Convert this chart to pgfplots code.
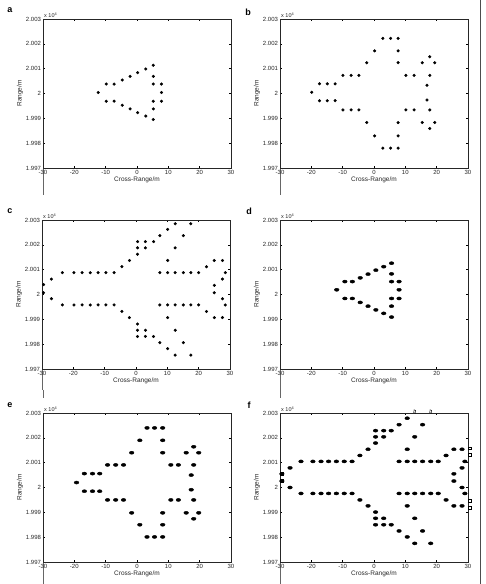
\documentclass[border=0pt]{standalone}
\usepackage{pgfplots}
\pgfplotsset{compat=1.18}
\usepackage{fontspec}
\setmainfont{Liberation Sans}
\begin{document}
\begin{tikzpicture}[x=1pt,y=1pt]
\pgfplotsset{
  panel/.style={
    width=188pt,height=149pt,scale only axis,anchor=south west,
    xmin=-30,xmax=30,ymin=19970,ymax=20030,
    xtick={-30,-20,-10,0,10,20,30},
    xticklabels={-30,-20,-10,0,10,20,30},
    ytick={19970,19980,19990,20000,20010,20020,20030},
    yticklabels={1.997,1.998,1.999,2,2.001,2.002,2.003},
    scaled y ticks=false,
    tick align=inside, major tick length=2.2pt,
    tick style={black,line width=0.4pt},
    axis line style={line width=0.5pt, black!85},
    tick label style={font=\fontsize{6}{7}\selectfont, text=black!85},
    xticklabel style={yshift=1.5pt}, yticklabel style={xshift=1.5pt},
    label style={font=\fontsize{6.5}{7.5}\selectfont, text=black!85},
    xlabel={Cross-Range/m}, ylabel={Range/m},
    xlabel style={yshift=4pt}, ylabel style={yshift=-4pt},
    clip=false,
  },
  smallmk/.style={only marks, mark=*, mark size=1.35pt, black},
  bigmk/.style={only marks, mark=*, mark size=1.55pt, mark options={xscale=1.5}, black},
}
\path[use as bounding box] (0,0) rectangle (486,584);
% decorative scan lines
\draw[black!70,line width=0.5pt] (480,0) -- (480,584);
\draw[black!60,line width=0.4pt] (43,416) -- (43,389) (42,215) -- (42,194) (43,194) -- (43,186) (43,22) -- (43,0);
\draw[black!60,line width=0.4pt] (280,416) -- (280,389) (280,215) -- (280,194) (280,194) -- (280,186) (280,22) -- (280,0);
% panel letters
\node[font=\bfseries\fontsize{9}{10}\selectfont] at (10,574) {a};
\node[font=\bfseries\fontsize{9}{10}\selectfont] at (248,572) {b};
\node[font=\bfseries\fontsize{9}{10}\selectfont] at (10,373) {c};
\node[font=\bfseries\fontsize{9}{10}\selectfont] at (249,373) {d};
\node[font=\bfseries\fontsize{9}{10}\selectfont] at (10,179) {e};
\node[font=\bfseries\fontsize{9}{10}\selectfont] at (249,179) {f};

% ---------------- a
\begin{axis}[panel, at={(43pt,416pt)}]
\addplot[smallmk] coordinates {(-12.4,20000.4) (-9.8,20003.8) (-7.3,20003.8) (-4.7,20005.4) (-2.2,20006.9) (0.2,20008.4) (2.8,20009.9) (5.2,20011.4) (5.2,20006.9) (5.2,20003.8) (7.8,20003.8) (7.8,20000.4) (-9.8,19996.9) (-7.3,19996.9) (-4.7,19995.3) (-2.2,19993.8) (0.2,19992.3) (2.8,19990.9) (5.2,19989.5) (5.2,19993.8) (5.2,19996.9) (7.8,19996.9)};
\node[anchor=south west, inner sep=1pt, font=\fontsize{5.5}{6}\selectfont, text=black!85] at (rel axis cs:0,1) {x 10\textsuperscript{4}};
\end{axis}

% ---------------- b
\begin{axis}[panel, at={(280pt,416pt)}]
\addplot[smallmk] coordinates {(-19.9,20000.5)
(-17.4,20003.9) (-14.9,20003.9) (-12.4,20003.9)
(-17.4,19997.1) (-14.9,19997.1) (-12.4,19997.1)
(-9.9,20007.3) (-7.3,20007.3) (-4.8,20007.3)
(-9.9,19993.4) (-7.3,19993.4) (-4.8,19993.4)
(-2.3,20012.4) (-2.3,19988.3)
(0.2,20017.2) (0.2,19982.9)
(2.8,20022.2) (5.3,20022.2) (7.7,20022.2)
(2.8,19978.0) (5.3,19978.0) (7.7,19978.0)
(7.7,20017.2) (7.7,20012.4) (7.7,19988.3) (7.7,19982.9)
(10.2,20007.3) (12.8,20007.3) (10.2,19993.4) (12.8,19993.4)
(15.4,20012.4) (17.8,20014.8) (19.4,20012.4) (17.8,20007.3)
(16.9,20003.3) (16.9,19997.4)
(17.8,19993.4) (15.4,19988.3) (19.4,19988.3) (17.8,19985.9)};
\node[anchor=south west, inner sep=1pt, font=\fontsize{5.5}{6}\selectfont, text=black!85] at (rel axis cs:0,1) {x 10\textsuperscript{4}};
\end{axis}

% ---------------- c
\begin{axis}[panel, at={(42pt,215pt)}]
\addplot[smallmk] coordinates {(-29.5,20004.0) (-29.5,20000.7) (-27.0,20006.2) (-27.0,19998.3)
(-23.5,20008.8) (-19.8,20008.8) (-17.2,20008.8) (-14.6,20008.8) (-12.1,20008.8) (-9.6,20008.8) (-7.0,20008.8)
(-23.5,19995.8) (-19.8,19995.8) (-17.2,19995.8) (-14.6,19995.8) (-12.1,19995.8) (-9.6,19995.8) (-7.0,19995.8)
(-4.5,20011.2) (-4.5,19993.2)
(-2.1,20013.7) (-2.1,19990.7)
(0.5,20016.2) (0.5,20018.8) (0.5,20021.3) (3.0,20021.3) (5.6,20021.3) (3.0,20018.8)
(0.5,19988.1) (0.5,19985.6) (0.5,19983.1) (3.0,19985.6) (3.0,19983.1) (5.6,19983.1)
(7.6,20023.7) (7.6,19980.6)
(10.1,20026.2) (10.1,19978.2)
(12.5,20028.5) (12.5,19975.6)
(17.5,20028.5) (17.5,19975.6)
(15.1,20023.7) (15.1,19980.6)
(12.5,20018.8) (12.5,19985.6)
(10.1,20013.7) (10.1,19990.7)
(7.6,20008.8) (10.1,20008.8) (12.5,20008.8) (15.1,20008.8) (17.5,20008.8) (20.0,20008.8)
(7.6,19995.8) (10.1,19995.8) (12.5,19995.8) (15.1,19995.8) (17.5,19995.8) (20.0,19995.8)
(22.5,20011.2) (22.5,19993.2)
(25.0,20013.7) (27.6,20013.7) (25.0,19990.7) (27.6,19990.7)
(28.5,20008.8) (28.5,19995.8)
(27.6,20006.2) (27.6,19998.3)
(25.0,20003.7) (25.0,20000.7)};
\node[anchor=south west, inner sep=1pt, font=\fontsize{5.5}{6}\selectfont, text=black!85] at (rel axis cs:0,1) {x 10\textsuperscript{4}};
\end{axis}

% ---------------- d
\begin{axis}[panel, at={(280pt,215pt)}]
\addplot[bigmk] coordinates {(-11.9,20001.9) (-9.3,20005.2) (-6.9,20005.2) (-9.3,19998.4) (-6.9,19998.4)
(-4.4,20006.7) (-4.4,19996.8) (-1.9,20008.2) (-1.9,19995.3)
(0.6,20009.8) (0.6,19993.8) (3.1,20011.2) (3.1,19992.4)
(5.6,20012.6) (5.6,19990.9) (5.6,20008.3) (5.6,19995.3)
(5.6,20005.2) (8.0,20005.2) (5.6,19998.4) (8.0,19998.4) (8.0,20001.9)};
\node[anchor=south west, inner sep=1pt, font=\fontsize{5.5}{6}\selectfont, text=black!85] at (rel axis cs:0,1) {x 10\textsuperscript{4}};
\end{axis}

% ---------------- e
\begin{axis}[panel, at={(43pt,22pt)}]
\addplot[bigmk] coordinates {(-19.3,20002.0)
(-16.8,20005.6) (-14.2,20005.6) (-11.9,20005.6)
(-16.8,19998.5) (-14.2,19998.5) (-11.9,19998.5)
(-9.4,20009.1) (-6.8,20009.1) (-4.3,20009.1)
(-9.4,19995.0) (-6.8,19995.0) (-4.3,19995.0)
(-1.7,20014.0) (-1.7,19989.8)
(0.9,20019.0) (0.9,19985.0)
(3.2,20024.0) (5.6,20024.0) (8.2,20024.0)
(3.2,19980.1) (5.6,19980.1) (8.2,19980.1)
(8.2,20019.0) (8.2,20014.0) (8.2,19989.8) (8.2,19985.0)
(10.8,20009.1) (13.2,20009.1) (10.8,19995.0) (13.2,19995.0)
(15.7,20014.0) (18.1,20016.4) (19.7,20014.0) (18.1,20009.1)
(17.3,20005.0) (17.3,19999.1)
(18.1,19995.0) (15.7,19989.8) (19.7,19989.8) (18.1,19987.4)};
\node[anchor=south west, inner sep=1pt, font=\fontsize{5.5}{6}\selectfont, text=black!85] at (rel axis cs:0,1) {x 10\textsuperscript{4}};
\end{axis}

% ---------------- f
\begin{axis}[panel, at={(280pt,22pt)}]
\addplot[bigmk] coordinates {(-29.4,20005.5) (-29.4,20002.6) (-26.8,20007.9) (-26.8,20000.0)
(-23.3,20010.5) (-19.5,20010.5) (-16.9,20010.5) (-14.5,20010.5) (-12.0,20010.5) (-9.5,20010.5) (-7.0,20010.5)
(-23.3,19997.6) (-19.5,19997.6) (-16.9,19997.6) (-14.5,19997.6) (-12.0,19997.6) (-9.5,19997.6) (-7.0,19997.6)
(-4.5,20012.9) (-4.5,19995.0)
(-1.9,20015.4) (-1.9,19992.6)
(0.5,20017.9) (0.5,20020.4) (0.5,20022.9) (3.1,20022.9) (5.5,20022.9) (3.1,20020.4)
(0.5,19990.1) (0.5,19987.6) (0.5,19985.0) (3.1,19987.6) (3.1,19985.0) (5.5,19985.0)
(8.0,20025.3) (8.0,19982.5)
(10.6,20027.9) (10.6,19980.1)
(13.0,19977.5) (18.1,19977.5)
(13.0,20020.4) (15.5,20025.3)
(13.0,19987.6) (15.5,19982.5)
(10.6,20015.4) (10.6,19992.6)
(8.0,20010.5) (10.6,20010.5) (13.0,20010.5) (15.5,20010.5) (18.1,20010.5) (20.5,20010.5)
(8.0,19997.6) (10.6,19997.6) (13.0,19997.6) (15.5,19997.6) (18.1,19997.6) (20.5,19997.6)
(23.0,20012.9) (23.0,19995.0)
(25.5,20015.4) (28.1,20015.4) (25.5,19992.6) (28.1,19992.6)
(29.0,20010.5) (29.0,19997.6)
(28.1,20007.9) (28.1,20000.0)
(25.5,20005.5) (25.5,20002.6)};
\addplot[only marks, mark=square, mark size=1.4pt, black, mark options={line width=0.4pt}] coordinates {(30.6,20015.8) (30.6,20013.1) (30.6,19994.6) (30.6,19992.0) (-29.4,20005.5) (-29.4,20002.6)};
\addplot[only marks, mark=o, mark size=2pt, black, mark options={line width=0.4pt, xscale=0.6, rotate=30}] coordinates {(13.0,20030.6) (18.1,20030.6)};
\node[anchor=south west, inner sep=1pt, font=\fontsize{5.5}{6}\selectfont, text=black!85] at (rel axis cs:0,1) {x 10\textsuperscript{4}};
\end{axis}
\end{tikzpicture}
\end{document}
